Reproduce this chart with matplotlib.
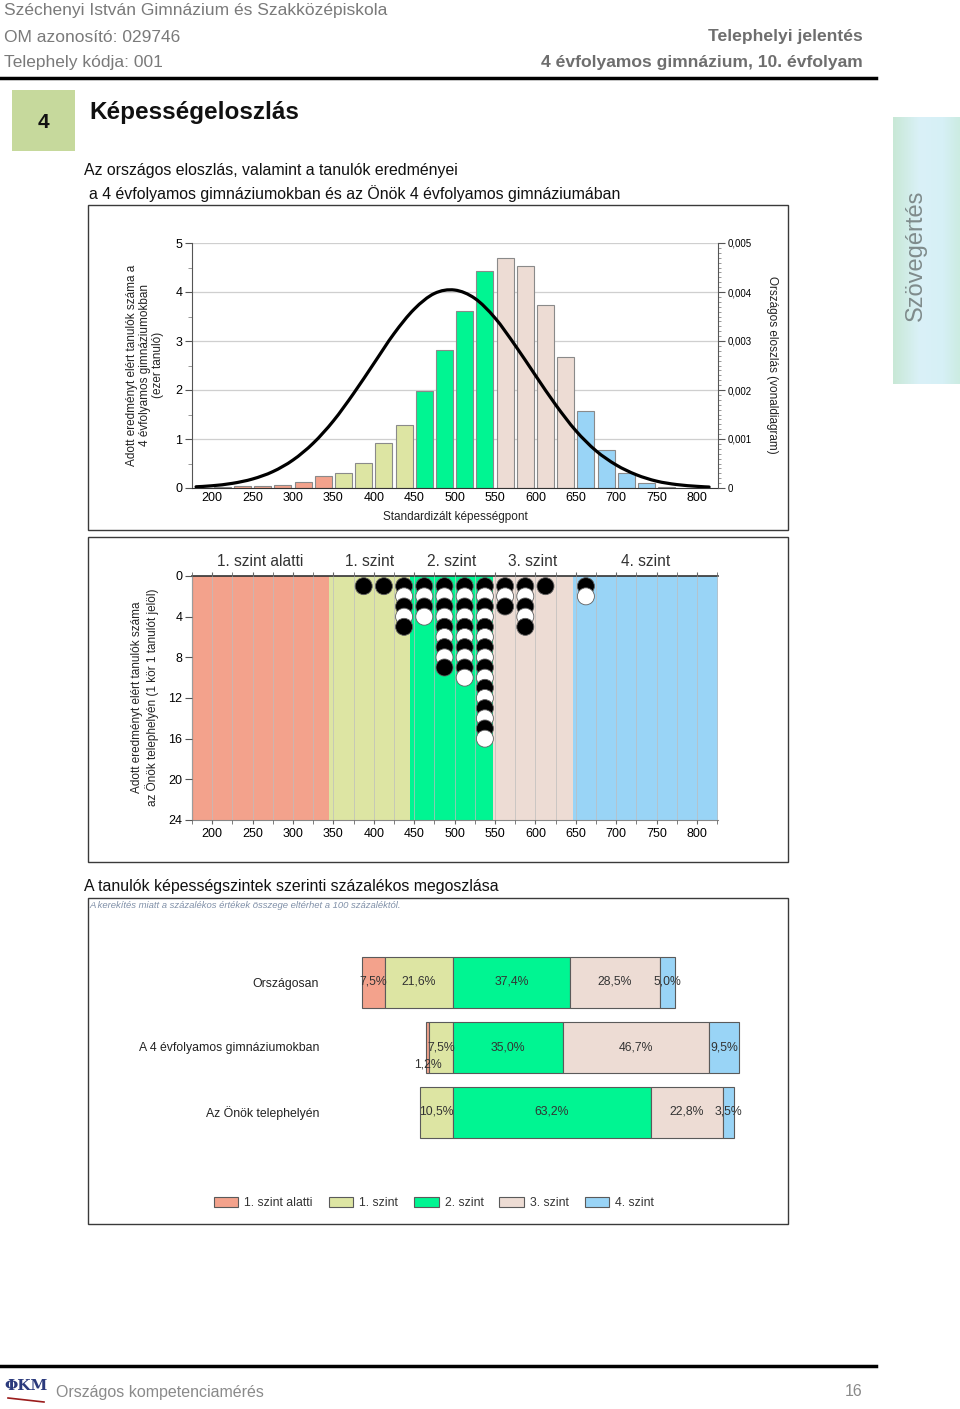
import matplotlib
matplotlib.use("Agg")
import matplotlib.pyplot as plt
import numpy as np
from matplotlib.patches import Rectangle, Patch, PathPatch
from matplotlib.path import Path
from matplotlib.ticker import MultipleLocator, FuncFormatter
import matplotlib.transforms as mtransforms

plt.rcParams['font.family'] = ['Liberation Sans', 'DejaVu Sans']

# ---------------- data ----------------
level_names = ['1. szint alatti', '1. szint', '2. szint', '3. szint', '4. szint']
level_colors = ['#F3A28C', '#DDE5A3', '#00F592', '#EDDCD4', '#99D4F6']
level_edges = [175, 345, 445, 547, 646, 826]

hist_centers = [187.5, 212.5, 237.5, 262.5, 287.5, 312.5, 337.5, 362.5, 387.5, 412.5,
                437.5, 462.5, 487.5, 512.5, 537.5, 562.5, 587.5, 612.5, 637.5, 662.5,
                687.5, 712.5, 737.5, 762.5]
hist_values = [0.01, 0.02, 0.04, 0.05, 0.06, 0.12, 0.24, 0.31, 0.52, 0.91,
               1.28, 1.97, 2.81, 3.61, 4.42, 4.69, 4.53, 3.74, 2.68, 1.58,
               0.77, 0.31, 0.10, 0.03]

curve_x = [180, 200, 225, 250, 275, 300, 325, 350, 375, 400, 425, 450, 475, 500,
           525, 550, 575, 600, 625, 650, 675, 700, 725, 750, 775, 800, 815]
curve_y = [0.000025, 0.000046, 0.000095, 0.000184, 0.000334, 0.000571, 0.000914,
           0.00137, 0.00193, 0.00254, 0.00315, 0.00365, 0.00397, 0.00404, 0.00387,
           0.00347, 0.00291, 0.00230, 0.00170, 0.00117, 0.00076, 0.00047, 0.00027,
           0.00014, 0.00007, 0.000034, 0.00002]

dot_scores = [387.5, 412.5, 437.5, 462.5, 487.5, 512.5, 537.5, 562.5, 587.5, 612.5, 662.5]
dot_counts = [1, 1, 5, 4, 9, 10, 16, 3, 5, 1, 2]

bar_rows = ['Országosan', 'A 4 évfolyamos gimnáziumokban', 'Az Önök telephelyén']
pct_orszagos = [7.5, 21.6, 37.4, 28.5, 5.0]
pct_gimnazium = [1.2, 7.5, 35.0, 46.7, 9.5]
pct_telephely = [0.0, 10.5, 63.2, 22.8, 3.5]

x_ticks = [200, 250, 300, 350, 400, 450, 500, 550, 600, 650, 700, 750, 800]

# ---------------- figure ----------------
W, H = 960, 1409
fig = plt.figure(figsize=(W / 100, H / 100), dpi=100)
fig.patch.set_facecolor('white')


def fx(px):
    return px / W


def fy(py):
    return 1 - py / H


def ftext(x, y, s, **kw):
    fig.text(fx(x), fy(y), s, **kw)


def level_color(v):
    for i in range(5):
        if v < level_edges[i + 1]:
            return level_colors[i]
    return level_colors[-1]


def smooth_path(xs, ys):
    """Smooth (Catmull-Rom style) Bezier path through the given points."""
    pts = list(zip(xs, ys))
    verts = [pts[0]]
    codes = [Path.MOVETO]
    n = len(pts)
    for i in range(n - 1):
        p0 = pts[i - 1] if i > 0 else pts[i]
        p1 = pts[i]
        p2 = pts[i + 1]
        p3 = pts[i + 2] if i + 2 < n else pts[i + 1]
        c1 = (p1[0] + (p2[0] - p0[0]) / 6, p1[1] + (p2[1] - p0[1]) / 6)
        c2 = (p2[0] - (p3[0] - p1[0]) / 6, p2[1] - (p3[1] - p1[1]) / 6)
        verts += [c1, c2, p2]
        codes += [Path.CURVE4] * 3
    return Path(verts, codes)


gray_txt = '#7a7a7a'
# header
ftext(4, 11, 'Széchenyi István Gimnázium és Szakközépiskola', fontsize=12.5, color=gray_txt, va='center')
ftext(4, 37, 'OM azonosító: 029746', fontsize=12.5, color=gray_txt, va='center')
ftext(4, 63, 'Telephely kódja: 001', fontsize=12.5, color=gray_txt, va='center')
ftext(863, 37, 'Telephelyi jelentés', fontsize=12.6, color='#6e6e6e', va='center', ha='right', fontweight='bold')
ftext(863, 63, '4 évfolyamos gimnázium, 10. évfolyam', fontsize=12.6, color='#6e6e6e', va='center', ha='right',
      fontweight='bold')
fig.add_artist(plt.Line2D([fx(0), fx(876)], [fy(78), fy(78)], color='black', lw=2.5))

fig.add_artist(Rectangle((fx(12), fy(151)), fx(63), 61 / H, facecolor='#C6D99C', edgecolor='none'))
ftext(43.5, 122, '4', fontsize=15, fontweight='bold', ha='center', va='center', color='#111111')
ftext(89, 112, 'Képességeloszlás', fontsize=17.5, fontweight='bold', va='center', color='#111111')
ftext(84, 170, 'Az országos eloszlás, valamint a tanulók eredményei', fontsize=11.4, va='center', color='#111111')
ftext(89, 194, 'a 4 évfolyamos gimnáziumokban és az Önök 4 évfolyamos gimnáziumában', fontsize=11.4, va='center',
      color='#111111')

# side banner
bax = fig.add_axes([fx(893), fy(384), fx(67), 267 / H])
grad = np.array([[200, 232, 214], [218, 241, 248], [214, 240, 246], [204, 236, 226]]) / 255.0
gx = np.linspace(0, 1, 60)
cols = np.stack([np.interp(gx, [0, 0.4, 0.75, 1], grad[:, c]) for c in range(3)], axis=-1)
bax.imshow(cols[np.newaxis, :, :], aspect='auto', extent=[0, 1, 0, 1])
bax.set_axis_off()
ftext(916, 255, 'Szövegértés', fontsize=17, rotation=90, ha='center', va='center', color='#7f8b8b')

# frames
for (x0, y0, x1, y1) in [(88, 205, 788, 530), (88, 537, 788, 862), (88, 898, 788, 1224)]:
    fig.add_artist(Rectangle((fx(x0), fy(y1)), fx(x1 - x0), (y1 - y0) / H, fill=False,
                             edgecolor='#3a3a3a', lw=1.0))

# ---------------- chart 1: histogram + curve ----------------
ax1 = fig.add_axes([fx(192), fy(488), fx(718 - 192), (488 - 243) / H])
ax1.set_xlim(175, 826)
ax1.set_ylim(0, 5)
for yv in [1, 2, 3, 4, 5]:
    ax1.axhline(yv, color='#cfcfcf', lw=0.9, zorder=0)
ax1.bar(hist_centers, hist_values, width=21, color=[level_color(c) for c in hist_centers],
        edgecolor='#8a8a8a', linewidth=0.8, zorder=2)
for s in ['top', 'right']:
    ax1.spines[s].set_visible(False)
ax1.spines['left'].set_color('#555555')
ax1.spines['bottom'].set_color('#333333')
ax1.yaxis.set_major_locator(MultipleLocator(1))
ax1.yaxis.set_minor_locator(MultipleLocator(0.5))
ax1.tick_params(axis='y', which='major', length=5, color='#555555', labelsize=9, pad=2)
ax1.tick_params(axis='y', which='minor', length=3, color='#888888')
ax1.set_xticks(x_ticks)
ax1.tick_params(axis='x', length=0, labelsize=9, pad=3)

ax1r = ax1.twinx()
ax1r.set_ylim(0, 0.005)
ax1r.set_xlim(175, 826)
ax1r.add_patch(PathPatch(smooth_path(curve_x, curve_y), facecolor='none', edgecolor='black', lw=2.3,
                         capstyle='round'))
for s in ['top', 'left', 'bottom']:
    ax1r.spines[s].set_visible(False)
ax1r.spines['right'].set_color('#555555')
ax1r.yaxis.set_major_locator(MultipleLocator(0.001))
ax1r.yaxis.set_minor_locator(MultipleLocator(0.0001))
ax1r.yaxis.set_major_formatter(FuncFormatter(lambda v, p: '0' if abs(v) < 1e-9 else f'{v:.3f}'.replace('.', ',')))
ax1r.tick_params(axis='y', which='major', length=5, color='#555555', labelsize=7, pad=2)
ax1r.tick_params(axis='y', which='minor', length=2, color='#888888')

ftext(145, 365, 'Adott eredményt elért tanulók száma a\n4 évfolyamos gimnáziumokban\n(ezer tanuló)',
      fontsize=8.5, rotation=90, ha='center', va='center', multialignment='center', color='#222222',
      linespacing=1.15)
ftext(772, 365, 'Országos eloszlás (vonaldiagram)', fontsize=8.5, rotation=270, ha='center', va='center',
      color='#222222')
ftext(455, 517, 'Standardizált képességpont', fontsize=8.5, ha='center', va='center', color='#222222')

# ---------------- chart 2: dot chart ----------------
ax2 = fig.add_axes([fx(192), fy(820), fx(718 - 192), (820 - 576) / H])
ax2.set_xlim(175, 826)
ax2.set_ylim(24, 0)
for i in range(5):
    ax2.axvspan(level_edges[i], level_edges[i + 1], color=level_colors[i], lw=0, zorder=0)
ax2.set_xticks(x_ticks)
ax2.xaxis.set_minor_locator(MultipleLocator(25))
ax2.grid(which='both', axis='x', color='#bdbdbd', lw=0.5, zorder=1)
ax2.set_axisbelow(False)
ax2.set_yticks([0, 4, 8, 12, 16, 20, 24])
ax2.tick_params(axis='y', length=5, color='#555555', labelsize=9, pad=2)
ax2.tick_params(axis='x', which='both', top=True, bottom=True, length=3, color='#666666', labelsize=9, pad=3)
ax2.spines['top'].set_color('#333333')
ax2.spines['top'].set_linewidth(1.2)
ax2.spines['right'].set_visible(False)
ax2.spines['bottom'].set_color('#888888')
ax2.spines['left'].set_color('#555555')

dx, dy, dc = [], [], []
for sc, n in zip(dot_scores, dot_counts):
    for k in range(1, n + 1):
        dx.append(sc)
        dy.append(k)
        dc.append('black' if k % 2 == 1 else 'white')
ax2.scatter(dx, dy, s=150, c=dc, edgecolors='#606060', linewidths=0.6, zorder=3, clip_on=False)

trans2 = mtransforms.blended_transform_factory(ax2.transData, ax2.transAxes)
for i, name in enumerate(level_names):
    ax2.text((level_edges[i] + level_edges[i + 1]) / 2, 1 + 14 / 244, name, transform=trans2,
             ha='center', va='center', fontsize=11.2, color='#333333')

ftext(145, 697, 'Adott eredményt elért tanulók száma\naz Önök telephelyén (1 kör 1 tanulót jelöl)',
      fontsize=8.5, rotation=90, ha='center', va='center', multialignment='center', color='#222222',
      linespacing=1.15)

# ---------------- chart 3: stacked bars ----------------
ftext(84, 887, 'A tanulók képességszintek szerinti százalékos megoszlása', fontsize=11.45, va='center',
      color='#111111')
ftext(89, 906, 'A kerekítés miatt a százalékos értékek összege eltérhet a 100 százaléktól.',
      fontsize=6.8, va='center', style='italic', color='#8090a8')

zero_px = 453.0
px_per_pct = 3.135
ax3 = fig.add_axes([fx(330), fy(1224), fx(788 - 330), (1224 - 898) / H])
ax3.set_xlim((330 - zero_px) / px_per_pct, (788 - zero_px) / px_per_pct)
ax3.set_ylim(2 + (1224 - 1112) / 65, -(982 - 898) / 65)
ax3.patch.set_alpha(0)
for s in ax3.spines.values():
    s.set_visible(False)
ax3.set_xticks([])
ax3.set_yticks([0, 1, 2])
ax3.set_yticklabels(bar_rows)
ax3.tick_params(axis='y', length=0, pad=8, labelsize=8.85, labelcolor='#222222')

bar_h = 51 / 65
for r, vals in enumerate([pct_orszagos, pct_gimnazium, pct_telephely]):
    left = -(vals[0] + vals[1])
    for i, v in enumerate(vals):
        if v <= 0:
            continue
        ax3.barh(r, v, left=left, height=bar_h, color=level_colors[i], edgecolor='#5a5a5a', lw=0.8)
        lab = f'{v:.1f}'.replace('.', ',') + '%'
        if v < 3:
            ax3.text(left + v / 2, r + 0.27, lab, ha='center', va='center', fontsize=8.8, color='#333333')
        else:
            ax3.text(left + v / 2, r, lab, ha='center', va='center', fontsize=8.8, color='#333333')
        left += v

handles = [Patch(facecolor=c, edgecolor='#5a5a5a', lw=0.8) for c in level_colors]
fig.legend(handles, level_names, loc='center', bbox_to_anchor=(fx(434), fy(1203)), ncol=5,
           frameon=False, fontsize=8.8, handlelength=2.0, handleheight=0.9, columnspacing=1.3,
           handletextpad=0.5, labelcolor='#333333')

# footer
fig.add_artist(plt.Line2D([fx(0), fx(876)], [fy(1366), fy(1366)], color='black', lw=2.5))
ftext(26, 1386, 'ΦKM', fontsize=11, ha='center', va='center', color='#2b3a7c', fontweight='bold',
      family=['DejaVu Serif'])
fig.add_artist(plt.Line2D([fx(8), fx(44)], [fy(1398), fy(1402)], color='#9b1c1c', lw=1.2))
ftext(56, 1392, 'Országos kompetenciamérés', fontsize=11.5, va='center', color='#8a8a8a')
ftext(862, 1392, '16', fontsize=11.5, va='center', ha='right', color='#8a8a8a')

fig.savefig('out.png', dpi=100)
